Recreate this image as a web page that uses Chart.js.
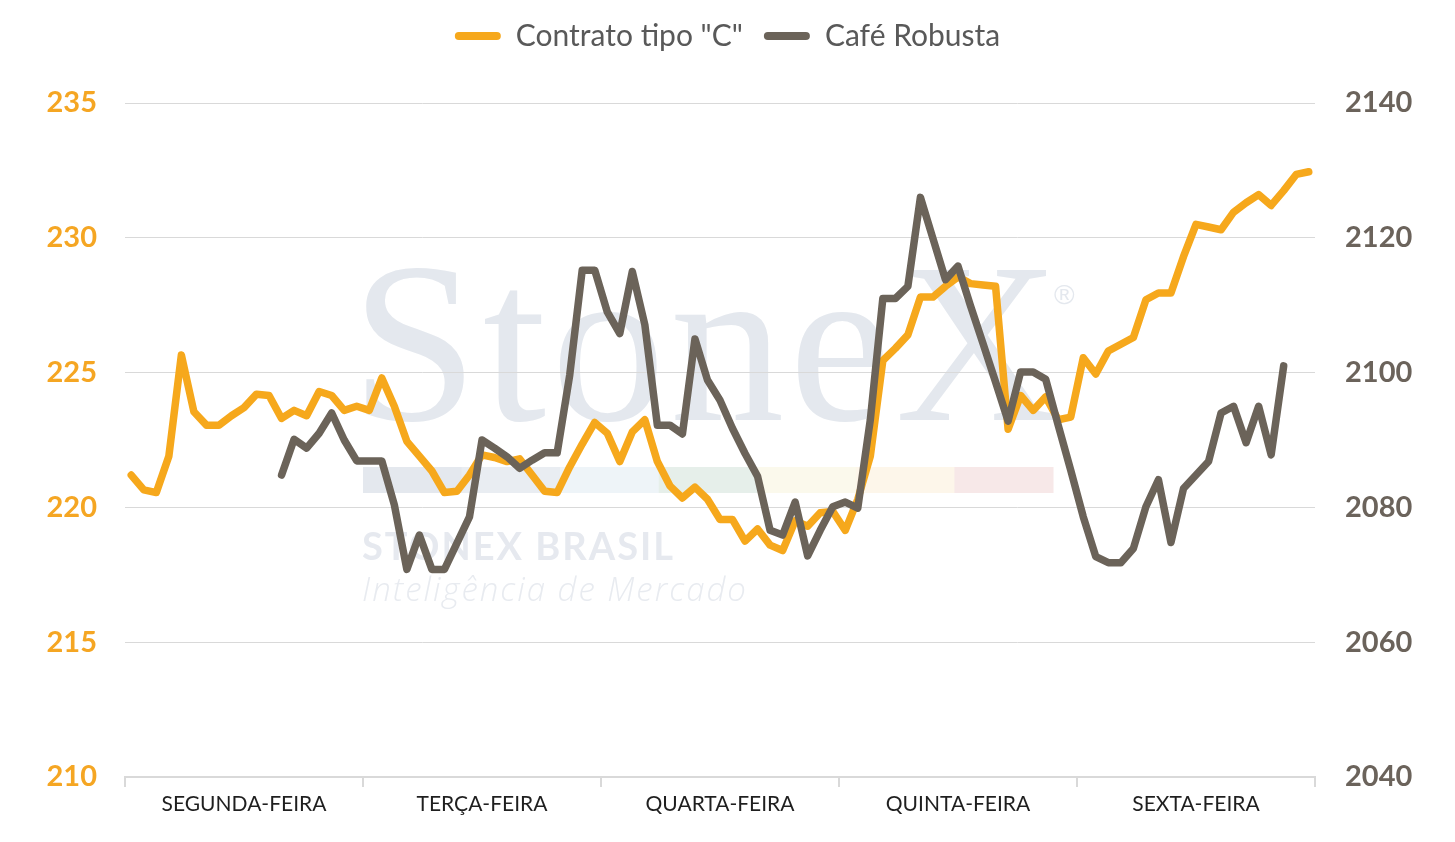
<!DOCTYPE html>
<html>
<head>
<meta charset="utf-8">
<script src="https://cdn.jsdelivr.net/npm/chart.js@4.4.1/dist/chart.umd.min.js"></script>
<style>
  html, body { margin: 0; padding: 0; background: #ffffff; }
  #wrap { width: 1455px; height: 842px; position: relative; }
</style>
</head>
<body>
<div id="wrap"><canvas id="c"></canvas></div>
<script>
// ---- Data ----
const days = ['SEGUNDA-FEIRA', 'TERÇA-FEIRA', 'QUARTA-FEIRA', 'QUINTA-FEIRA', 'SEXTA-FEIRA'];
const slotsPerDay = 19;
const pointLabels = [];
days.forEach(d => { for (let s = 1; s <= slotsPerDay; s++) pointLabels.push(d + ' ' + s); });

const seriesNames = ['Contrato tipo "C"', 'Café Robusta'];

const contratoC = [
  221.2, 220.65, 220.55, 221.9, 225.65, 223.55, 223.05, 223.05, 223.4, 223.7,
  224.2, 224.15, 223.3, 223.6, 223.4, 224.3, 224.15, 223.6, 223.75,
  223.6, 224.8, 223.75, 222.45, 221.9, 221.35, 220.55, 220.6, 221.2, 221.95,
  221.85, 221.7, 221.8, 221.2, 220.6, 220.55, 221.5, 222.35, 223.15,
  222.75, 221.7, 222.8, 223.25, 221.7, 220.8, 220.35, 220.75, 220.3, 219.55,
  219.55, 218.75, 219.2, 218.6, 218.4, 219.5, 219.3, 219.8, 219.85,
  219.15, 220.3, 221.9, 225.45, 225.9, 226.4, 227.8, 227.8, 228.2, 228.55,
  228.3, 228.25, 228.2, 222.9, 224.15, 223.6, 224.1, 223.25, 223.35,
  225.55, 224.95, 225.8, 226.05, 226.3, 227.7, 227.95, 227.95, 229.3, 230.5,
  230.4, 230.3, 230.95, 231.3, 231.6, 231.2, 231.75, 232.35, 232.45
];

const cafeRobusta = [
  null, null, null, null, null, null, null, null, null, null,
  null, null, 2084.8, 2090.1, 2088.8, 2091.0, 2094.0, 2090.0, 2086.9,
  2086.9, 2086.9, 2080.4, 2070.8, 2075.9, 2070.8, 2070.8, 2074.7, 2078.6, 2090.0,
  2088.8, 2087.5, 2085.8, 2087.0, 2088.1, 2088.1, 2099.6, 2115.2, 2115.2,
  2109.0, 2105.8, 2115.0, 2107.1, 2092.2, 2092.2, 2090.9, 2105.0, 2098.9, 2095.9,
  2091.7, 2088.0, 2084.6, 2076.6, 2075.9, 2080.8, 2072.8, 2076.6, 2080.1,
  2080.8, 2079.9, 2093.0, 2111.0, 2111.0, 2112.8, 2126.0, 2119.9, 2113.8, 2115.8,
  2109.9, 2104.3, 2098.6, 2092.8, 2100.1, 2100.1, 2099.0, 2092.2, 2085.5,
  2078.6, 2072.7, 2071.8, 2071.8, 2073.9, 2080.1, 2084.1, 2074.8, 2082.8, 2084.8,
  2086.8, 2094.0, 2095.0, 2089.6, 2095.0, 2087.8, 2101.0, null, null
];

const leftAxis = { min: 210, max: 235, step: 5 };
const rightAxis = { min: 2040, max: 2140, step: 20 };

// ---- Styles ----
const ORANGE = '#f6a81c';
const GREY = '#6b6359';
const GRID = '#d9d9d9';

const watermarkPlugin = {
  id: 'watermark',
  beforeDraw(chart) {
    const ctx = chart.ctx;
    ctx.save();
    ctx.fillStyle = '#ffffff';
    ctx.fillRect(0, 0, chart.width, chart.height);
    ctx.textBaseline = 'alphabetic';
    ctx.textAlign = 'left';
    ctx.fillStyle = '#e4e8ee';
    ctx.font = '228px "Liberation Serif", "DejaVu Serif", serif';
    ctx.letterSpacing = '5px';
    ctx.fillText('StoneX', 351, 420);
    ctx.letterSpacing = '0px';
    ctx.font = '28px "Liberation Sans", sans-serif';
    ctx.fillText('®', 1054, 304);
    const segColors = ['#e4e8ee', '#e9edf2', '#eef4f8', '#e6efea', '#fbf9ec', '#fdf6ea', '#f7e8e8'];
    const x0 = 363, x1 = 1053, w = (x1 - x0) / segColors.length;
    segColors.forEach((c, i) => { ctx.fillStyle = c; ctx.fillRect(x0 + i * w, 467, w + 0.5, 26); });
    ctx.fillStyle = '#e6e9ef';
    ctx.font = 'bold 38px Lato, "Open Sans", sans-serif';
    ctx.letterSpacing = '2px';
    ctx.fillText('STONEX BRASIL', 362, 560);
    ctx.fillStyle = '#e8ebf0';
    ctx.font = 'italic 300 33px "Open Sans", Lato, sans-serif';
    ctx.letterSpacing = '2px';
    ctx.fillText('Inteligência de Mercado', 362, 601);
    ctx.restore();
  }
};

const legendHeightPlugin = {
  id: 'legendHeight',
  afterInit(chart) {
    const lg = chart.legend;
    if (!lg) return;
    const f = lg.fit;
    lg.fit = function () { f.call(this); this.height = 103; };
  }
};

new Chart(document.getElementById('c'), {
  type: 'line',
  data: {
    datasets: [
      {
        label: seriesNames[0], data: contratoC, borderColor: ORANGE, backgroundColor: ORANGE,
        borderWidth: 7.5, pointRadius: 0, tension: 0, fill: false,
        borderJoinStyle: 'round', borderCapStyle: 'round',
        xAxisID: 'xPts', yAxisID: 'yL', order: 1
      },
      {
        label: seriesNames[1], data: cafeRobusta, borderColor: GREY, backgroundColor: GREY,
        borderWidth: 7.5, pointRadius: 0, tension: 0, fill: false, spanGaps: false,
        borderJoinStyle: 'round', borderCapStyle: 'round',
        xAxisID: 'xPts', yAxisID: 'yR', order: 0
      }
    ]
  },
  options: {
    responsive: true,
    maintainAspectRatio: false,
    animation: false,
    events: [],
    layout: { padding: { top: 0, bottom: 0, left: 0, right: 0 } },
    plugins: {
      tooltip: { enabled: false },
      legend: {
        display: true,
        position: 'top',
        align: 'center',
        labels: {
          boxWidth: 46,
          boxHeight: 8,
          padding: 21,
          useBorderRadius: true,
          borderRadius: 4,
          color: '#595959',
          font: { family: 'Lato, "Open Sans", sans-serif', size: 30 },
          generateLabels(chart) {
            return chart.data.datasets.map((ds, i) => ({
              text: ds.label,
              fillStyle: ds.borderColor,
              strokeStyle: ds.borderColor,
              lineWidth: 0,
              hidden: false,
              datasetIndex: i,
              borderRadius: 4,
              fontColor: '#595959'
            }));
          }
        }
      }
    },
    scales: {
      x: {
        type: 'category',
        labels: days,
        position: 'bottom',
        offset: true,
        grid: { offset: true, drawOnChartArea: false, drawTicks: true, tickLength: 10, color: GRID, lineWidth: 2 },
        border: { display: true, color: GRID, width: 2 },
        ticks: { color: '#1f1f1f', font: { family: 'Lato, "Open Sans", sans-serif', size: 21 }, padding: 5, maxRotation: 0, autoSkip: false },
        afterFit(s) { s.height = 65; }
      },
      xPts: {
        type: 'category',
        labels: pointLabels,
        display: false,
        offset: true
      },
      yL: {
        type: 'linear',
        position: 'left',
        min: leftAxis.min, max: leftAxis.max,
        ticks: { stepSize: leftAxis.step, color: '#f5a623', padding: 28, font: { family: 'Lato, "Open Sans", sans-serif', size: 29, weight: 'bold' }, callback: v => String(v) },
        grid: { color: GRID, lineWidth: 1, drawTicks: false },
        border: { display: false },
        afterFit(s) { s.width = 125; }
      },
      yR: {
        type: 'linear',
        position: 'right',
        min: rightAxis.min, max: rightAxis.max,
        ticks: { stepSize: rightAxis.step, color: '#6b635b', padding: 30, font: { family: 'Lato, "Open Sans", sans-serif', size: 29, weight: 'bold' }, callback: v => String(v) },
        grid: { drawOnChartArea: false, drawTicks: false },
        border: { display: false },
        afterFit(s) { s.width = 140; }
      }
    }
  },
  plugins: [watermarkPlugin, legendHeightPlugin]
});
</script>
</body>
</html>
